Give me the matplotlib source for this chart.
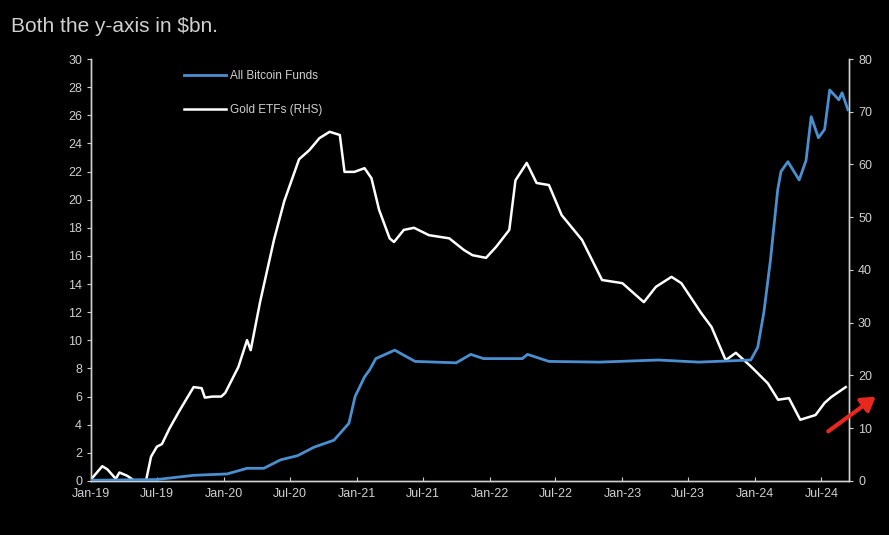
import pandas as pd
import matplotlib
matplotlib.use("Agg")
import matplotlib.pyplot as plt
import matplotlib.dates as mdates

plt.rcParams['font.family'] = ['Liberation Sans Narrow', 'Liberation Sans', 'DejaVu Sans']

# Gold ETFs, $bn (right axis)
gold_dates = ["2019-01-01", "2019-02-01", "2019-02-15", "2019-03-10", "2019-03-20", "2019-04-10",
              "2019-05-01", "2019-06-01", "2019-06-15", "2019-07-01", "2019-07-15", "2019-08-05",
              "2019-09-01", "2019-09-20", "2019-10-10", "2019-11-01", "2019-11-10", "2019-12-01",
              "2019-12-25", "2020-01-05", "2020-02-10", "2020-03-05", "2020-03-15", "2020-04-10",
              "2020-05-18", "2020-06-15", "2020-07-26", "2020-08-23", "2020-09-20", "2020-10-18",
              "2020-11-15", "2020-11-28", "2020-12-25", "2021-01-22", "2021-02-10", "2021-03-03",
              "2021-04-01", "2021-04-13", "2021-05-10", "2021-06-07", "2021-07-18", "2021-09-12",
              "2021-10-22", "2021-11-15", "2021-12-22", "2022-01-19", "2022-02-24", "2022-03-13",
              "2022-04-13", "2022-05-10", "2022-06-13", "2022-07-18", "2022-09-12", "2022-11-06",
              "2023-01-01", "2023-03-01", "2023-04-03", "2023-05-16", "2023-06-12", "2023-08-06",
              "2023-09-03", "2023-10-12", "2023-11-09", "2023-12-22", "2024-02-05", "2024-03-04",
              "2024-04-03", "2024-05-04", "2024-06-15", "2024-07-10", "2024-07-28", "2024-08-18",
              "2024-09-06"]
gold_values = [0.3, 2.8, 2.2, 0.4, 1.6, 1.0,
               0.0, 0.0, 4.6, 6.5, 7.0, 10.0,
               13.3, 15.5, 17.8, 17.6, 15.8, 16.0,
               16.0, 16.7, 21.6, 26.7, 24.8, 34.0,
               45.7, 53.0, 61.0, 62.7, 65.0, 66.2,
               65.6, 58.6, 58.6, 59.3, 57.4, 51.4,
               46.0, 45.3, 47.6, 48.0, 46.6, 46.0,
               43.8, 42.8, 42.3, 44.4, 47.6, 57.0,
               60.3, 56.5, 56.1, 50.4, 45.7, 38.1,
               37.5, 33.9, 36.8, 38.7, 37.5, 31.8,
               29.2, 22.9, 24.3, 21.6, 18.5, 15.4,
               15.7, 11.6, 12.5, 14.8, 15.9, 16.9,
               17.8]

# All Bitcoin Funds, $bn (left axis)
btc_dates = ["2019-01-01", "2019-06-30", "2019-10-10", "2020-01-10", "2020-03-05", "2020-04-20",
             "2020-06-05", "2020-07-22", "2020-09-05", "2020-10-30", "2020-12-10", "2020-12-27",
             "2021-01-22", "2021-02-05", "2021-02-22", "2021-04-15", "2021-06-10", "2021-10-01",
             "2021-11-10", "2021-12-15", "2022-04-01", "2022-04-15", "2022-06-13", "2022-10-30",
             "2023-04-10", "2023-07-30", "2023-12-20", "2024-01-08", "2024-01-25", "2024-02-12",
             "2024-03-03", "2024-03-12", "2024-03-31", "2024-05-01", "2024-05-20", "2024-06-03",
             "2024-06-23", "2024-07-10", "2024-07-24", "2024-08-18", "2024-08-27", "2024-09-12"]
btc_values = [0.05, 0.1, 0.4, 0.5, 0.9, 0.9,
              1.5, 1.8, 2.4, 2.9, 4.1, 6.0,
              7.4, 7.9, 8.7, 9.3, 8.5, 8.4,
              9.0, 8.7, 8.7, 9.0, 8.5, 8.45,
              8.6, 8.45, 8.6, 9.5, 12.0, 15.7,
              20.7, 22.0, 22.7, 21.4, 22.8, 25.9,
              24.4, 25.0, 27.8, 27.1, 27.6, 26.4]

gold = pd.Series(gold_values, index=pd.to_datetime(gold_dates))
btc = pd.Series(btc_values, index=pd.to_datetime(btc_dates))

fg = '#d0d0d0'
fig = plt.figure(figsize=(8.89, 5.35), dpi=100, facecolor='black')
ax = fig.add_axes([0.1024, 0.101, 0.8526, 0.7887], facecolor='black')
ax2 = ax.twinx()

ax.plot(btc.index, btc.values, color='#4a8fd0', lw=2, label='All Bitcoin Funds', zorder=3)
ax2.plot(gold.index, gold.values, color='white', lw=1.8, label='Gold ETFs (RHS)')
ax.set_zorder(2)
ax.patch.set_visible(False)

ax.set_xlim(pd.Timestamp("2019-01-01"), pd.Timestamp("2024-09-15"))
ax.set_ylim(0, 30)
ax2.set_ylim(0, 80)
ax.set_yticks(range(0, 31, 2))
ax2.set_yticks(range(0, 81, 10))

ax.xaxis.set_major_locator(mdates.MonthLocator(bymonth=[1, 7]))
ax.xaxis.set_major_formatter(mdates.DateFormatter('%b-%y'))

for a in (ax, ax2):
    for s in a.spines.values():
        s.set_color(fg)
        s.set_linewidth(1)
    a.spines['top'].set_visible(False)
    a.tick_params(colors=fg, labelsize=9, length=3)
ax.tick_params(axis='x', direction='in', pad=5)

fig.text(0.012, 0.968, 'Both the y-axis in \\$bn.', color=fg, fontsize=15,
         va='top', ha='left', family=['Liberation Sans', 'DejaVu Sans'])

h1, l1 = ax.get_legend_handles_labels()
h2, l2 = ax2.get_legend_handles_labels()
leg = ax.legend(h1 + h2, l1 + l2, loc='upper left', bbox_to_anchor=(0.108, 1.0),
                frameon=False, fontsize=8.5, labelcolor=fg, handlelength=3.6,
                handletextpad=0.3, labelspacing=1.9)

ax.annotate('', xy=(878, 140), xytext=(826, 102), xycoords='figure pixels',
            textcoords='figure pixels', annotation_clip=False,
            arrowprops=dict(arrowstyle='-|>,head_length=0.8,head_width=0.5',
                            color='#e8281e', lw=3))

fig.savefig('out.png', dpi=100, facecolor='black')
